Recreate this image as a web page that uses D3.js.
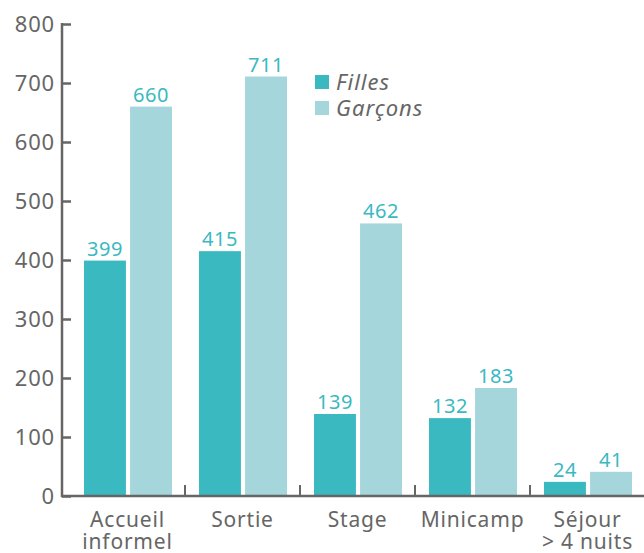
<!DOCTYPE html>
<html><head><meta charset="utf-8">
<script src="https://cdn.jsdelivr.net/npm/d3@7"></script>
<style>body{margin:0;background:#fff;} svg{display:block;}</style>
</head><body>
<svg id="c" width="644" height="553"></svg>
<script>
const categories = [["Accueil","informel"],["Sortie"],["Stage"],["Minicamp"],["Séjour","> 4 nuits"]];
const filles = [399, 415, 139, 132, 24];
const garcons = [660, 711, 462, 183, 41];
const seriesNames = ["Filles", "Garçons"];
const yTicks = [0,100,200,300,400,500,600,700,800];

const colors = ["#3ab9c1", "#a4d6db"];
const gray = "#666666";
const font = "'Noto Sans', sans-serif";

const svg = d3.select("#c");
const y = d3.scaleLinear().domain([0,800]).range([496,24]);
const x = d3.scaleBand().domain(d3.range(categories.length)).range([70,645]).paddingInner(0).paddingOuter(0);
const inner = d3.scaleBand().domain([0,1]).range([14,102]).paddingInner(0.09);

// bars
const series = [filles, garcons];
series.forEach((vals, s) => {
  const g = svg.append("g");
  g.selectAll("rect").data(vals).enter().append("rect")
    .attr("x", (d,i) => x(i) + inner(s))
    .attr("width", inner.bandwidth())
    .attr("y", d => y(d))
    .attr("height", d => y(0) - y(d))
    .attr("fill", colors[s]);
  g.selectAll("text").data(vals).enter().append("text")
    .attr("x", (d,i) => x(i) + inner(s) + inner.bandwidth()/2)
    .attr("y", d => y(d) - 5)
    .attr("text-anchor","middle")
    .attr("font-family", font).attr("font-size", 20).attr("letter-spacing", 0.5)
    .attr("fill", "#3ab9c1")
    .text(d => d);
});

// y axis
const yAxis = d3.axisLeft(y).tickValues(yTicks).tickSize(-9).tickPadding(8);
const ya = svg.append("g").attr("transform","translate(62,0)").call(yAxis);
ya.select(".domain").attr("stroke", gray).attr("stroke-width", 2.5).attr("d","M0,23V497");
ya.selectAll(".tick line").attr("stroke", gray).attr("stroke-width", 2.5);
ya.selectAll(".tick text").attr("x", -7).attr("dy","0.36em").attr("font-family", font).attr("font-size", 22).attr("letter-spacing", 0.8).attr("fill", gray);

// x axis
const xa = svg.append("g").attr("transform","translate(0,496)");
xa.append("line").attr("x1",61).attr("x2",644).attr("y1",0).attr("y2",0).attr("stroke",gray).attr("stroke-width",2.5);
xa.selectAll("line.t").data(d3.range(1,categories.length)).enter().append("line")
  .attr("class","t")
  .attr("x1", i => x(i)).attr("x2", i => x(i))
  .attr("y1", 0).attr("y2", -11)
  .attr("stroke", gray).attr("stroke-width", 2);
const lab = xa.selectAll("text").data(categories).enter().append("text")
  .attr("text-anchor","middle")
  .attr("font-family", font).attr("font-size", 21).attr("letter-spacing", 0.8).attr("fill", gray)
  .attr("transform", (d,i) => `translate(${x(i)+x.bandwidth()/2},0)`);
lab.selectAll("tspan").data(d => d).enter().append("tspan")
  .attr("x", 0).attr("y", (d,j) => 31 + j*22)
  .text(d => d);

// legend
const leg = svg.append("g").attr("transform","translate(315,75)");
seriesNames.forEach((n, i) => {
  leg.append("rect").attr("x",0).attr("y", i*26).attr("width",14).attr("height",14).attr("fill",colors[i]);
  leg.append("text").attr("x",21).attr("y", i*26 + 15)
    .attr("font-family", font).attr("font-size", 22).attr("font-style","italic").attr("letter-spacing", 1)
    .attr("fill", gray).text(n);
});
</script>
</body></html>
